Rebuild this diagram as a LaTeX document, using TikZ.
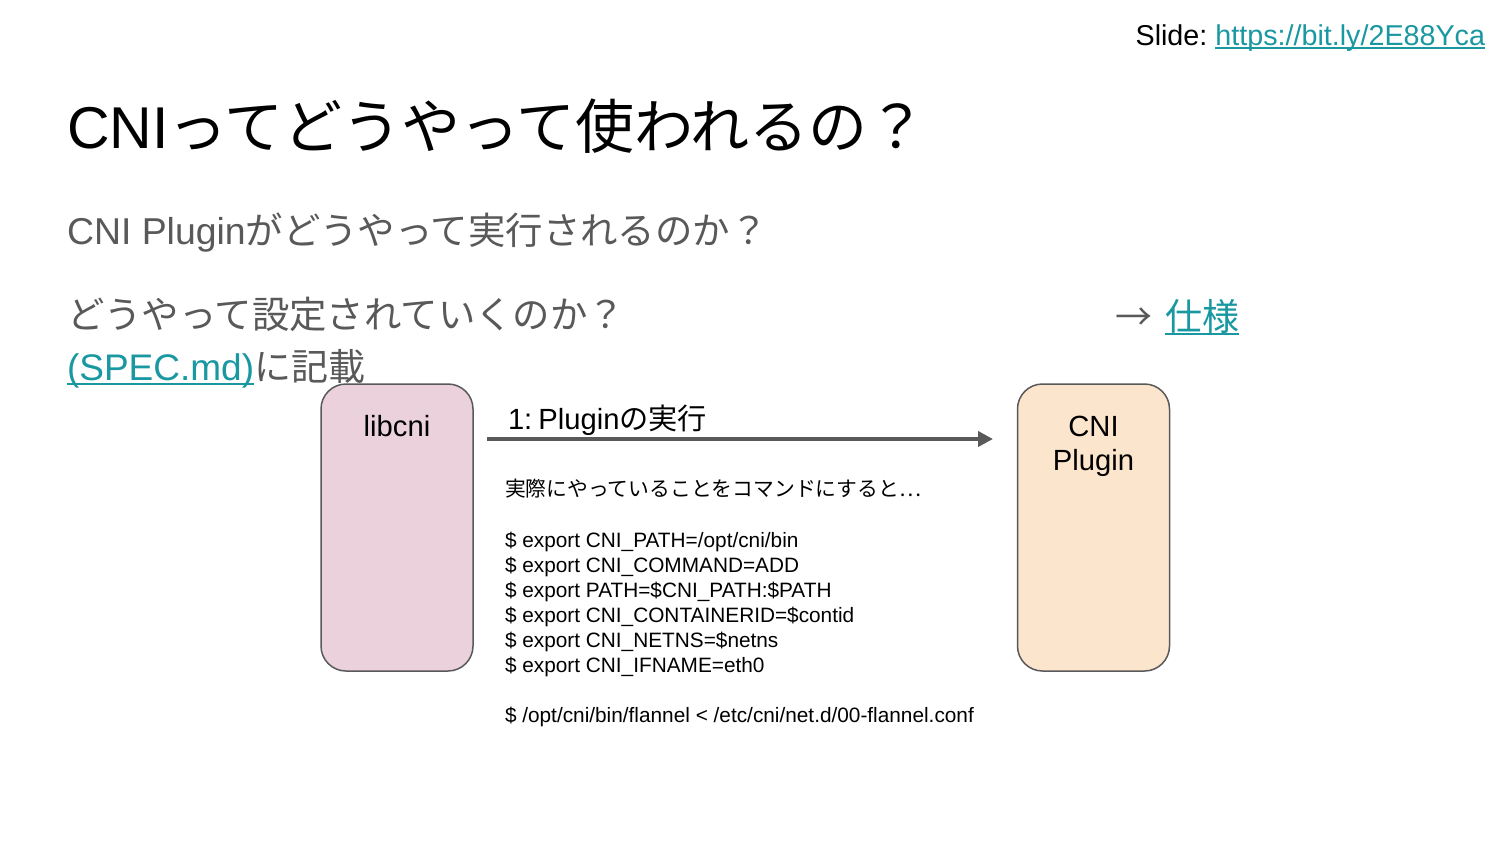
\documentclass[tikz,border=0pt]{standalone}
\usepackage{fontspec}
\setmainfont{Liberation Sans}
\newfontfamily\jp{Noto Sans CJK JP}
\usetikzlibrary{arrows.meta}
\definecolor{txtgray}{HTML}{595959}
\definecolor{linkcol}{HTML}{1A98A2}
\definecolor{pinkfill}{HTML}{EAD1DC}
\definecolor{peachfill}{HTML}{FCE5CD}
\definecolor{edgecol}{HTML}{595959}
\newcommand\fsz[1]{\fontsize{#1}{#1}\selectfont}
\begin{document}
\begin{tikzpicture}[x=1pt,y=-1pt,
  txt/.style={anchor=base west,inner sep=0pt,outer sep=0pt},
  txte/.style={anchor=base east,inner sep=0pt,outer sep=0pt},
  boxnode/.style={draw=edgecol,line width=1.5pt,rounded corners=25pt,minimum width=152pt,minimum height=287pt,inner sep=0pt},
  ctxt/.style={anchor=base,inner sep=0pt,outer sep=0pt,font=\fsz{29.2}},
  cmd/.style={txt,font=\fsz{20.8}},
  uline/.style={linkcol,line width=1.8pt},
  arr/.style={edgecol,line width=4pt,-{Triangle[length=15pt,width=15pt]}}]
\useasboundingbox[fill=white] (0,0) rectangle (1500,844);

% top right
\node[txte,font=\fsz{28.7},text=linkcol] (url) at (1485,45) {https://bit.ly/2E88Yca};
\node[txte,font=\fsz{28.7}] (slidelbl) at ([xshift=-8pt]url.base west) {Slide:};
\draw[uline] ([yshift=-3pt]url.base west) -- ([yshift=-3pt]url.base east);

% title
\node[txt,font=\fsz{59}] (title) at (67,148) {CNI{\jp ってどうやって使われるの？}};

% body
\node[txt,font=\fsz{37.4},text=txtgray] (q1) at (67,244) {CNI Plugin{\jp がどうやって実行されるのか？}};
\node[txt,font=\fsz{37.4}\jp,text=txtgray] (q2) at (67,328) {どうやって設定されていくのか？};
\node[txt,font=\fsz{37}\jp,text=txtgray] (arrowtxt) at (1115,330) {→};
\node[txt,font=\fsz{37}\jp,text=linkcol] (spec) at (1165,330) {仕様};
\draw[uline] ([yshift=-4pt]spec.base west) -- ([yshift=-4pt]spec.base east);
\node[txt,font=\fsz{37},text=linkcol] (specmd) at (67,380) {(SPEC.md)};
\draw[uline] ([yshift=-4pt]specmd.base west) -- ([yshift=-4pt]specmd.base east);
\node[txt,font=\fsz{37}\jp,text=txtgray] (kisai) at (specmd.base east) {に記載};

% boxes
\node[boxnode,fill=pinkfill] (lib) at (397,527.5) {};
\node[boxnode,fill=peachfill] (plug) at (1093.5,527.5) {};
\node[ctxt] (libtxt) at (397,436) {libcni};
\node[ctxt] (plugtxt1) at (1093.5,436) {CNI};
\node[ctxt] (plugtxt2) at (1093.5,470) {Plugin};

% arrow
\coordinate (a1) at (487,439);
\coordinate (a2) at (993,439);
\draw[arr] (a1) -- (a2);
\node[txt,font=\fsz{29.2}] (alabel) at (508,429) {1:\kern6pt Plugin{\jp の実行}};

% commands
\node[cmd,font=\fsz{20.8}\jp] (intro) at (505,496) {実際にやっていることをコマンドにすると…};
\node[cmd] (c1) at (505,547) {\$ export CNI\_PATH=/opt/cni/bin};
\node[cmd] (c2) at (505,572) {\$ export CNI\_COMMAND=ADD};
\node[cmd] (c3) at (505,597) {\$ export PATH=\$CNI\_PATH:\$PATH};
\node[cmd] (c4) at (505,622) {\$ export CNI\_CONTAINERID=\$contid};
\node[cmd] (c5) at (505,647) {\$ export CNI\_NETNS=\$netns};
\node[cmd] (c6) at (505,672) {\$ export CNI\_IFNAME=eth0};
\node[cmd] (c7) at (505,722) {\$ /opt/cni/bin/flannel < /etc/cni/net.d/00-flannel.conf};
\end{tikzpicture}
\end{document}
